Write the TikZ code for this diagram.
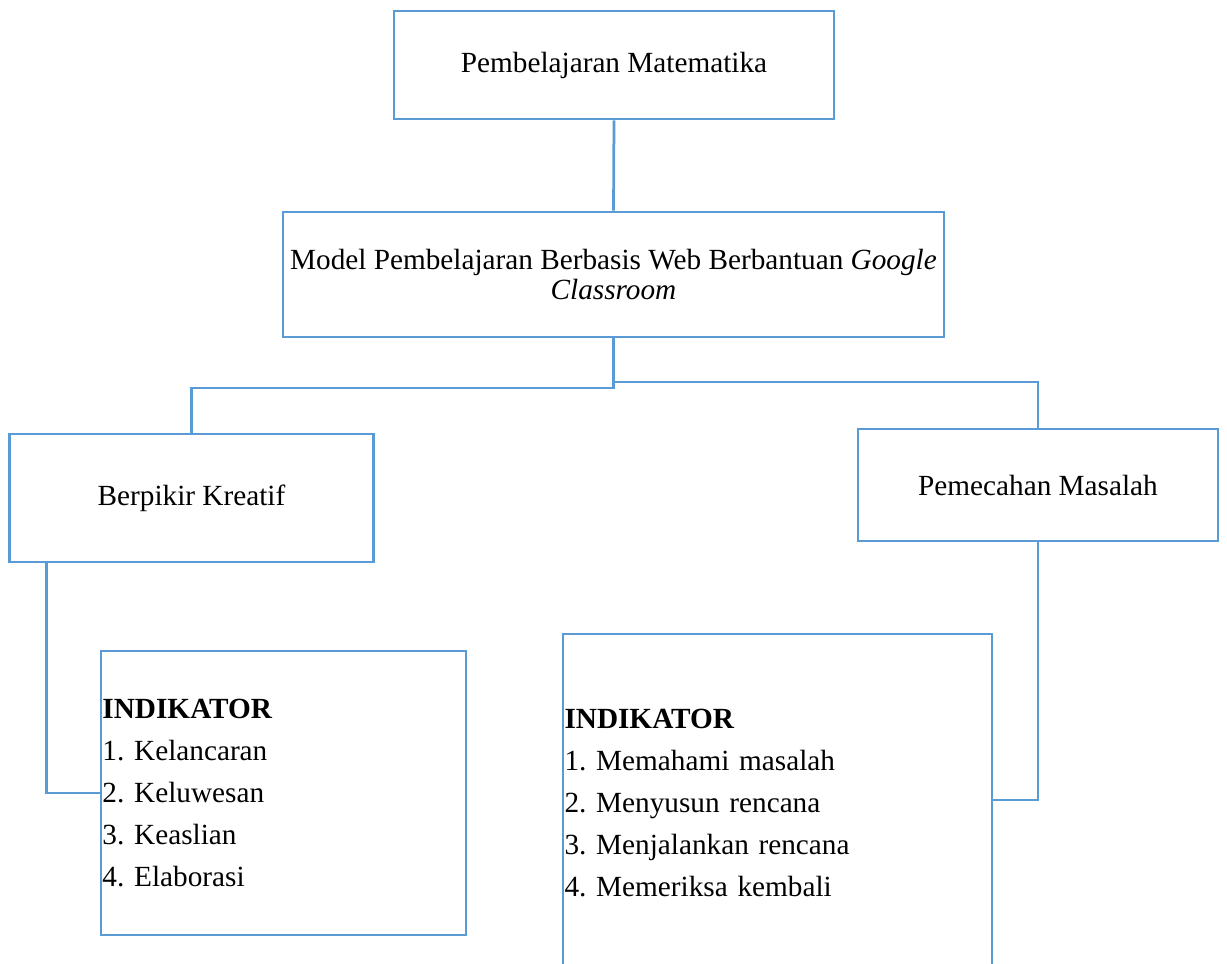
\documentclass[tikz,border=0pt]{standalone}
\usepackage{fontspec}
\setmainfont{Liberation Serif}
\usepackage{xcolor}
\definecolor{lineblue}{RGB}{91,155,213}
\usetikzlibrary{arrows, positioning, shapes}
\frenchspacing
\tikzstyle{box} = [rectangle, draw=lineblue, line width=1.1pt, inner sep=0pt, font=\fontsize{11.7}{14}\selectfont]
\tikzstyle{indbox} = [box, align=left, inner xsep=0.6pt, font=\fontsize{11.7}{16.8}\selectfont]
\tikzstyle{link} = [draw=lineblue, line width=1.1pt]

\begin{document}
\begin{tikzpicture}[x=0.4pt,y=-0.4pt]
  \useasboundingbox (0,0) rectangle (1227,963);
  \clip (0,0) rectangle (1227,963);
  \node (mat) [box,minimum width=176pt,minimum height=43.2pt] at (614,65) {Pembelajaran Matematika};
  \node (model) [box,minimum width=264.4pt,minimum height=50pt,align=center,font=\fontsize{11.7}{12}\selectfont] at (613.5,274.5) {Model Pembelajaran Berbasis Web Berbantuan \textit{Google}\\\textit{Classroom}};
  \node (kreatif) [box,minimum width=145.6pt,minimum height=51.2pt] at (191.5,498) {Berpikir Kreatif};
  \node (masalah) [box,minimum width=144pt,minimum height=44.8pt] at (1038,485) {Pemecahan Masalah};
  \node (indk1) [indbox,text width=144.8pt,minimum height=113.6pt] at (283.5,793) {\textbf{INDIKATOR}\\1. Kelancaran\\2. Keluwesan\\3. Keaslian\\4. Elaborasi};
  \node (indk2) [indbox,text width=170.4pt,minimum height=135.2pt] at (777.5,803) {\textbf{INDIKATOR}\\1. Memahami masalah\\2. Menyusun rencana\\3. Menjalankan rencana\\4. Memeriksa kembali};
  \coordinate (splitL) at (613.5,388);
  \coordinate (splitR) at (613.5,382);
  \draw [link] (mat.south) -- (model.north);
  \draw [link] (model.south) -- (splitL) -| (kreatif.north);
  \draw [link] (splitR) -| (masalah.north);
  \draw [link] ([xshift=-58pt]kreatif.south) |- (indk1.west);
  \draw [link] (masalah.south) |- ([yshift=1.2pt]indk2.east);
\end{tikzpicture}
\end{document}
